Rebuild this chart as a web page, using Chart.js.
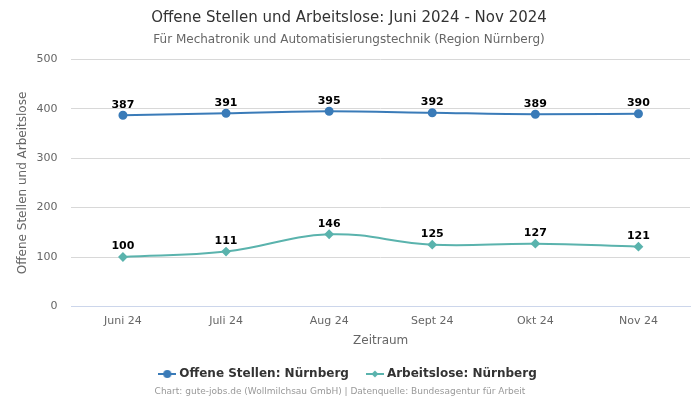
<!DOCTYPE html>
<html>
<head>
<meta charset="utf-8">
<script src="https://cdn.jsdelivr.net/npm/chart.js@4"></script>
<style>
html,body{margin:0;padding:0;background:#fff}
#wrap{width:700px;height:400px}
</style>
</head>
<body>
<div id="wrap"><canvas id="chart" width="700" height="400"></canvas></div>
<script>
const monate=["Juni 24","Juli 24","Aug 24","Sept 24","Okt 24","Nov 24"]
const offeneStellen=[387,391,395,392,389,390]
const arbeitslose=[100,111,146,125,127,121]

const blau="#3a7bb8"
const tuerkis="#5ab3ad"

/* legend icon: line with marker */
function icon(farbe,raute){
const c=document.createElement("canvas")
c.width=18;c.height=10
const g=c.getContext("2d")
g.strokeStyle=farbe;g.fillStyle=farbe;g.lineWidth=2
g.beginPath();g.moveTo(0,5);g.lineTo(18,5);g.stroke()
g.beginPath()
if(raute){g.moveTo(9,1.5);g.lineTo(12.5,5);g.lineTo(9,8.5);g.lineTo(5.5,5);g.closePath()}
else g.arc(9,5,4,0,Math.PI*2)
g.fill()
return c
}

/* data labels + footer */
const labelPlugin={
id:"werte",
afterDatasetsDraw(chart){
const ctx=chart.ctx
ctx.save()
ctx.font="bold 11px 'DejaVu Sans'"
ctx.fillStyle="#000"
ctx.textAlign="center"
ctx.textBaseline="bottom"
chart.data.datasets.forEach((ds,i)=>{
chart.getDatasetMeta(i).data.forEach((p,j)=>{
ctx.fillText(ds.data[j],p.x,p.y-5)
})
})
ctx.font="9px 'DejaVu Sans'"
ctx.fillStyle="#999"
ctx.textBaseline="middle"
ctx.fillText("Chart: gute-jobs.de (Wollmilchsau GmbH) | Datenquelle: Bundesagentur für Arbeit",340,392)
ctx.restore()
}
}

new Chart(document.getElementById("chart"),{
type:"line",
data:{
labels:monate,
datasets:[{
label:"Offene Stellen: Nürnberg",
data:offeneStellen,
borderColor:blau,
backgroundColor:blau,
borderWidth:2,
pointStyle:"circle",
pointRadius:3.5,
pointHoverRadius:3.5,
tension:0.4,
cubicInterpolationMode:"monotone"
},{
label:"Arbeitslose: Nürnberg",
data:arbeitslose,
borderColor:tuerkis,
backgroundColor:tuerkis,
borderWidth:2,
pointStyle:"rectRot",
pointRadius:3.5,
pointHoverRadius:3.5,
tension:0.4
}]
},
options:{
responsive:false,
animation:false,
layout:{padding:{left:8,right:10,top:0,bottom:10}},
plugins:{
title:{display:true,text:"Offene Stellen und Arbeitslose: Juni 2024 - Nov 2024",color:"#333",font:{family:"DejaVu Sans",size:15,weight:"normal"},padding:{top:9,bottom:6}},
subtitle:{display:true,text:"Für Mechatronik und Automatisierungstechnik (Region Nürnberg)",color:"#666",font:{family:"DejaVu Sans",size:12},padding:{bottom:12}},
legend:{
position:"bottom",
labels:{
color:"#333",
font:{family:"DejaVu Sans",size:12,weight:"bold"},
usePointStyle:true,
padding:20,
generateLabels(chart){
return chart.data.datasets.map((ds,i)=>({
text:ds.label,
pointStyle:icon(ds.borderColor,i==1),
fillStyle:ds.borderColor,
strokeStyle:ds.borderColor,
lineWidth:0,
datasetIndex:i,
fontColor:"#333"
}))
}
}
},
tooltip:{enabled:false}
},
scales:{
x:{
offset:true,
grid:{display:false},
border:{color:"#ccd6eb"},
ticks:{color:"#666",font:{family:"DejaVu Sans",size:11},padding:0},
title:{display:true,text:"Zeitraum",color:"#666",font:{family:"DejaVu Sans",size:12},padding:{top:6,bottom:0}}
},
y:{
min:0,max:500,
ticks:{stepSize:100,color:"#666",font:{family:"DejaVu Sans",size:11},padding:14},
grid:{color:"#d8d8d8",drawTicks:false},
border:{display:false},
title:{display:true,text:"Offene Stellen und Arbeitslose",color:"#666",font:{family:"DejaVu Sans",size:12},padding:{top:8,bottom:-8}}
}
}
},
plugins:[labelPlugin]
})
</script>
</body>
</html>
